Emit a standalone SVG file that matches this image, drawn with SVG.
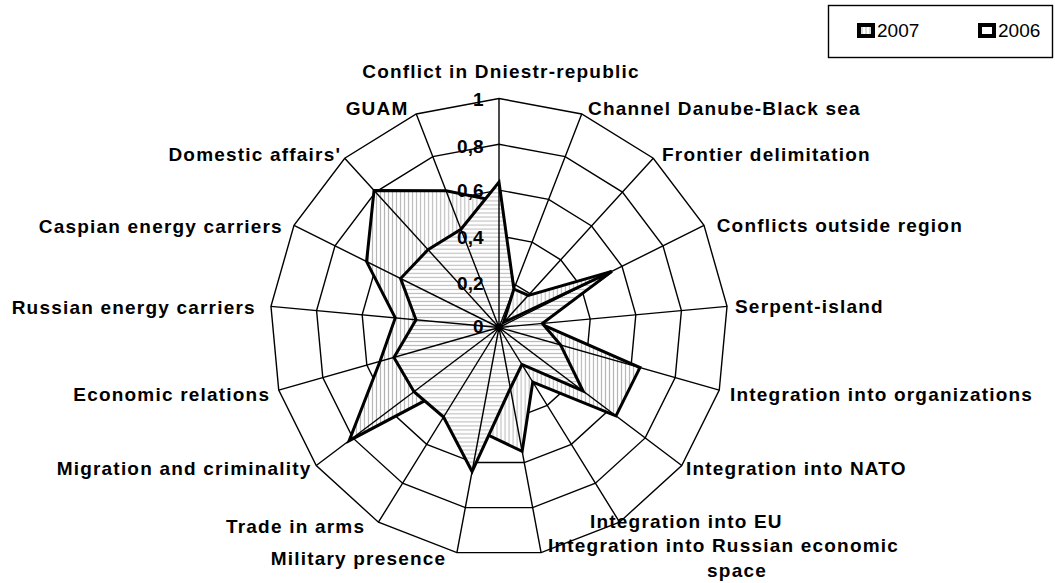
<svg xmlns="http://www.w3.org/2000/svg" width="1055" height="583" viewBox="0 0 1055 583">
<defs>
<pattern id="vhatch" patternUnits="userSpaceOnUse" width="4" height="4">
<rect width="4" height="4" fill="#ffffff"/>
<line x1="2" y1="0" x2="2" y2="4" stroke="#b4b4b4" stroke-width="1"/>
</pattern>
<pattern id="hhatch" patternUnits="userSpaceOnUse" width="4" height="4">
<rect width="4" height="4" fill="#ffffff"/>
<line x1="0" y1="2" x2="4" y2="2" stroke="#b4b4b4" stroke-width="1"/>
</pattern>
<style>
.ring{fill:none;stroke:#000;stroke-width:1.4}
.spoke{fill:none;stroke:#000;stroke-width:1.4}
.series{stroke:#000;stroke-width:3;stroke-linejoin:miter;stroke-miterlimit:3}
.val{font-family:"Liberation Sans",Arial,sans-serif;font-weight:bold;font-size:19px;fill:#000;text-anchor:end}
.cat{font-family:"Liberation Sans",Arial,sans-serif;font-weight:bold;font-size:19px;letter-spacing:1.2px;fill:#000}
.leg{font-family:"Liberation Sans",Arial,sans-serif;font-size:19px;fill:#000}
.key{stroke:#000;stroke-width:4}
</style>
</defs>
<rect width="1055" height="583" fill="#ffffff"/>

<g id="chart" transform="translate(499,327.5) scale(1.0044)">
<g id="rings">
<polygon class="ring" points="0,-228 82.36,-212.6 153.6,-168.49 204.1,-101.63 227.03,-21.04 219.3,62.39 181.95,137.4 120.03,193.85 41.9,224.12 -41.9,224.12 -120.03,193.85 -181.95,137.4 -219.3,62.39 -227.03,-21.04 -204.1,-101.63 -153.6,-168.49 -82.36,-212.6"/>
<polygon class="ring" points="0,-182.4 65.89,-170.08 122.88,-134.79 163.28,-81.3 181.62,-16.83 175.44,49.91 145.56,109.92 96.02,155.08 33.52,179.3 -33.52,179.3 -96.02,155.08 -145.56,109.92 -175.44,49.91 -181.62,-16.83 -163.28,-81.3 -122.88,-134.79 -65.89,-170.08"/>
<polygon class="ring" points="0,-136.8 49.42,-127.56 92.16,-101.09 122.46,-60.98 136.22,-12.62 131.58,37.43 109.17,82.44 72.02,116.31 25.14,134.47 -25.14,134.47 -72.02,116.31 -109.17,82.44 -131.58,37.43 -136.22,-12.62 -122.46,-60.98 -92.16,-101.09 -49.42,-127.56"/>
<polygon class="ring" points="0,-91.2 32.94,-85.04 61.44,-67.4 81.64,-40.65 90.81,-8.42 87.72,24.96 72.78,54.96 48.01,77.54 16.76,89.65 -16.76,89.65 -48.01,77.54 -72.78,54.96 -87.72,24.96 -90.81,-8.42 -81.64,-40.65 -61.44,-67.4 -32.94,-85.04"/>
<polygon class="ring" points="0,-45.6 16.47,-42.52 30.72,-33.7 40.82,-20.33 45.41,-4.21 43.86,12.48 36.39,27.48 24.01,38.77 8.38,44.82 -8.38,44.82 -24.01,38.77 -36.39,27.48 -43.86,12.48 -45.41,-4.21 -40.82,-20.33 -30.72,-33.7 -16.47,-42.52"/>
</g>
<g id="series-2007">
<polygon class="series" fill="url(#vhatch)" points="0,-125.4 14.82,-38.27 29.18,-32.01 112.26,-55.9 40.87,-3.79 140.35,39.93 116.45,87.94 33.61,54.28 23.05,123.27 -19.27,103.1 -31.21,50.4 -149.2,112.67 -118.42,33.69 -103.3,-9.57 -131.85,-65.65 -124.42,-136.48 -52.71,-136.06"/>
</g>
<g id="series-2006">
<polygon class="series" fill="url(#hhatch)" points="0,-144.78 14.82,-38.27 4.61,-5.05 112.26,-55.9 43.14,-4 61.4,17.47 83.7,63.2 22.81,36.83 11.31,60.51 -26.82,143.44 -55.21,89.17 -84.61,63.89 -104.61,29.76 -82.64,-7.66 -97.97,-48.78 -70.66,-77.51 -37.89,-97.8"/>
</g>
<g id="spokes">
<path class="spoke" d="M0,0L0,-228M0,0L82.36,-212.6M0,0L153.6,-168.49M0,0L204.1,-101.63M0,0L227.03,-21.04M0,0L219.3,62.39M0,0L181.95,137.4M0,0L120.03,193.85M0,0L41.9,224.12M0,0L-41.9,224.12M0,0L-120.03,193.85M0,0L-181.95,137.4M0,0L-219.3,62.39M0,0L-227.03,-21.04M0,0L-204.1,-101.63M0,0L-153.6,-168.49M0,0L-82.36,-212.6"/>
</g>
</g>

<g id="value-axis-labels">
<text class="val" x="483.5" y="105.5">1</text>
<text class="val" x="483.5" y="153.3">0,8</text>
<text class="val" x="483.5" y="197">0,6</text>
<text class="val" x="483.5" y="244.3">0,4</text>
<text class="val" x="483.5" y="290">0,2</text>
<text class="val" x="483.5" y="333.3">0</text>
</g>

<g id="category-labels">
<text class="cat" x="501" y="78" text-anchor="middle">Conflict in Dniestr-republic</text>
<text class="cat" x="588" y="115">Channel Danube-Black sea</text>
<text class="cat" x="662" y="161">Frontier delimitation</text>
<text class="cat" x="716.7" y="232">Conflicts outside region</text>
<text class="cat" x="735" y="313">Serpent-island</text>
<text class="cat" x="730" y="401">Integration into organizations</text>
<text class="cat" x="686" y="475">Integration into NATO</text>
<text class="cat" x="590" y="528">Integration into EU</text>
<text class="cat" x="548" y="551.7">Integration into Russian economic</text>
<text class="cat" x="737" y="577" text-anchor="middle">space</text>
<text class="cat" x="270.7" y="565">Military presence</text>
<text class="cat" x="226" y="533.3">Trade in arms</text>
<text class="cat" x="56.7" y="475.3">Migration and criminality</text>
<text class="cat" x="73.3" y="400.7">Economic relations</text>
<text class="cat" x="11.7" y="313.5">Russian energy carriers</text>
<text class="cat" x="282.9" y="232.7" text-anchor="end">Caspian energy carriers</text>
<text class="cat" x="341.2" y="160.5" text-anchor="end">Domestic affairs'</text>
<text class="cat" x="408.5" y="115" text-anchor="end">GUAM</text>
</g>

<g id="legend">
<rect x="828.5" y="5.5" width="224" height="52" fill="#ffffff" stroke="#000" stroke-width="1.4"/>
<rect class="key" x="859" y="25" width="14" height="11" fill="url(#vhatch)"/>
<text class="leg" x="877" y="36.7">2007</text>
<rect class="key" x="980" y="25" width="14" height="11" fill="#ffffff"/>
<text class="leg" x="998" y="36.7">2006</text>
</g>
</svg>
